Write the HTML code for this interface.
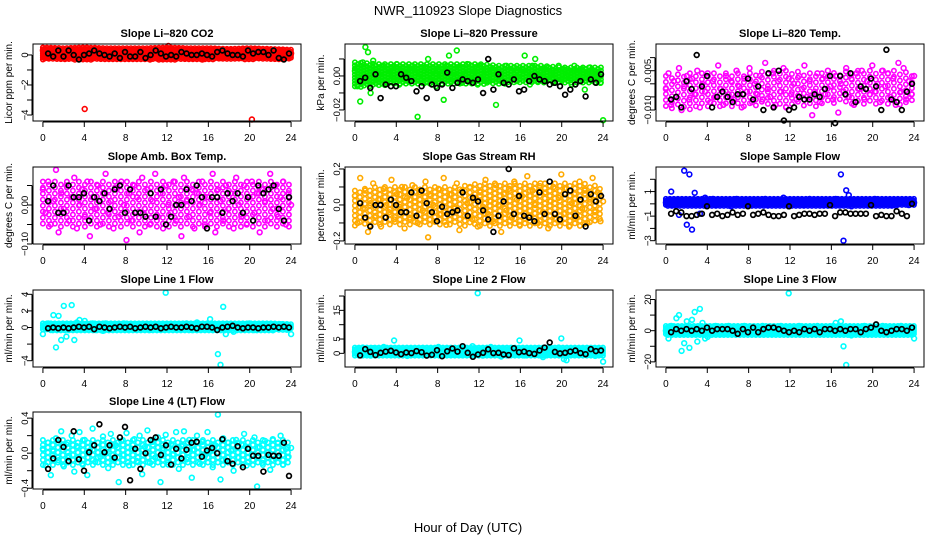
<!DOCTYPE html>
<html><head><meta charset="utf-8"><style>
html,body{margin:0;padding:0;background:#fff;}
svg{display:block;font-family:"Liberation Sans",Arial,sans-serif;}
</style></head><body>
<svg id="fig" width="936" height="540" viewBox="0 0 936 540">
<rect width="936" height="540" fill="#fff"/>
<text x="468" y="15" text-anchor="middle" font-size="13">NWR_110923  Slope Diagnostics</text>
<text x="468" y="532" text-anchor="middle" font-size="13">Hour of Day (UTC)</text>
</svg>
<script>
const xTicks=[0,4,8,12,16,20,24];
const bandHours=[0,2,4,6,8,10,12,14,16,18,20,22,24];
const co2Lo=[-0.3,-0.3,-0.35,-0.3,-0.3,-0.3,-0.35,-0.3,-0.3,-0.3,-0.3,-0.3,-0.3];
const co2Hi=[0.5,0.45,0.5,0.45,0.45,0.45,0.5,0.45,0.45,0.4,0.45,0.4,0.35];
const presLo=[-0.007,-0.006,-0.005,-0.005,-0.005,-0.005,-0.005,-0.005,-0.004,-0.004,-0.004,-0.004,-0.004];
const presHi=[0.008,0.007,0.007,0.007,0.007,0.007,0.007,0.006,0.006,0.006,0.005,0.005,0.005];
const tempLo=[-0.010,-0.010,-0.009,-0.009,-0.009,-0.009,-0.009,-0.009,-0.008,-0.008,-0.008,-0.008,-0.008];
const tempHi=[0.003,0.004,0.004,0.004,0.004,0.005,0.005,0.004,0.004,0.005,0.005,0.005,0.004];
const ambLo=[-0.06,-0.06,-0.06,-0.06,-0.06,-0.06,-0.06,-0.06,-0.06,-0.06,-0.06,-0.06,-0.06];
const ambHi=[0.06,0.06,0.06,0.06,0.06,0.06,0.06,0.06,0.06,0.06,0.06,0.06,0.06];
const rhLo=[-0.12,-0.12,-0.12,-0.12,-0.12,-0.12,-0.12,-0.12,-0.12,-0.12,-0.12,-0.12,-0.10];
const rhHi=[0.08,0.10,0.10,0.10,0.10,0.10,0.12,0.12,0.12,0.12,0.12,0.12,0.10];
const sampLo=[-0.2,-0.2,-0.2,-0.2,-0.2,-0.2,-0.2,-0.2,-0.2,-0.2,-0.2,-0.2,-0.1];
const sampHi=[0.4,0.4,0.4,0.4,0.4,0.4,0.4,0.4,0.4,0.4,0.4,0.4,0.4];
const l1Lo=[-0.3,-0.4,-0.4,-0.4,-0.4,-0.4,-0.4,-0.4,-0.4,-0.4,-0.4,-0.4,-0.3];
const l1Hi=[0.5,0.5,0.5,0.5,0.5,0.5,0.5,0.5,0.5,0.5,0.5,0.5,0.4];
const l2Lo=[-1,-1,-1,-1,-1,-1,-1,-1,-1,-1,-1,-1,-1];
const l2Hi=[2,2,2,2,2,2,2,2,2,2,2,2,2];
const l3Lo=[-3,-3,-3,-3,-3,-3,-3,-3,-3,-3,-3,-3,-3];
const l3Hi=[3,3,3,3,3,3,3,3,3,3,3,3,3];
const l4Lo=[-0.15,-0.15,-0.15,-0.15,-0.15,-0.15,-0.15,-0.15,-0.15,-0.15,-0.15,-0.15,-0.15];
const l4Hi=[0.15,0.15,0.15,0.15,0.15,0.15,0.15,0.15,0.15,0.15,0.15,0.15,0.15];
const co2Color=[0.3,0.1,-0.2,0.4,0.0,0.2,-0.1,0.3,0.1,-0.2,0.2,0.0,0.3,-0.1,0.1,0.2,-3.6,0.0,0.3,-0.2,0.1,0.2,-0.1,0.0,0.3,0.1,-0.2,0.2,0.0,-0.1,0.3,0.1,0.2,-0.2,0.0,0.1,0.3,-0.1,0.2,0.0,0.1,-0.3,0.2,0.1,0.0,0.3,-0.1,0.2,0.6,0.0,-0.2,0.1,0.2,0.0,-0.1,0.3,0.1,-0.2,0.2,0.0,0.1,-0.3,0.2,0.1,0.0,-0.1,0.3,0.1,-0.2,0.2,0.0,0.1,-0.1,0.2,0.3,0.0,-0.2,0.1,0.2,0.0,-4.3,0.1,0.2,-0.1,0.3,0.0,0.1,-0.2,0.2,0.1,0.0,0.3,-0.1,0.2,0.0,0.1];
const co2Black=[0.1,-0.1,0.3,-0.1,0.3,0.0,-0.3,0.0,0.1,0.3,0.1,0.0,-0.1,0.1,-0.2,0.2,-0.1,-0.1,0.2,-0.2,0.0,0.3,0.1,-0.1,0.0,-0.1,0.2,0.1,0.0,0.0,0.1,0.0,-0.1,0.2,0.3,0.1,0.0,0.0,-0.1,0.3,0.1,0.2,0.2,0.0,0.3,-0.2,-0.3,0.1];
const presColor=[0.003,-0.006,-0.015,0.008,0.017,0.014,-0.010,0.009,0.004,-0.003,0.002,0.006,-0.004,0.001,0.005,-0.002,0.007,-0.005,0.003,0.000,0.004,-0.003,0.006,0.002,-0.024,0.001,-0.004,0.005,0.010,-0.002,0.003,-0.006,0.004,0.001,-0.014,0.006,0.012,-0.003,0.002,0.015,0.005,-0.004,0.001,0.007,-0.002,0.004,0.003,-0.005,0.006,0.000,0.003,-0.003,0.005,0.002,-0.017,0.004,0.001,-0.004,0.006,-0.002,0.003,0.005,-0.003,0.001,0.004,0.012,0.002,-0.005,0.006,0.010,-0.003,0.002,0.004,-0.002,0.005,0.001,-0.004,0.003,0.006,-0.002,0.004,0.000,0.003,-0.005,0.006,0.002,-0.003,0.004,-0.008,0.001,0.005,-0.002,0.003,0.000,-0.004,-0.026];
const presBlack=[-0.003,-0.001,-0.007,0.001,-0.013,-0.005,-0.006,-0.006,0.001,-0.001,-0.003,-0.009,-0.006,-0.013,-0.005,-0.007,-0.005,0.002,-0.007,-0.004,-0.002,-0.003,-0.004,-0.002,-0.010,0.010,-0.008,0.001,-0.004,-0.005,-0.002,-0.009,-0.008,-0.003,0.000,-0.002,-0.003,-0.005,-0.004,-0.006,-0.011,-0.008,-0.005,-0.003,-0.012,-0.002,-0.004,0.001];
const tempColor=[-0.002,0.004,-0.008,0.001,-0.005,0.006,-0.010,-0.001,0.003,-0.006,0.002,-0.004,0.005,-0.009,0.000,-0.003,0.004,-0.007,0.001,-0.005,0.007,-0.002,-0.008,0.003,-0.004,0.001,-0.006,0.005,-0.001,-0.009,0.002,-0.003,0.006,-0.007,0.000,-0.004,0.003,-0.006,0.008,-0.002,-0.005,0.004,-0.008,0.001,-0.003,0.006,-0.009,0.002,-0.004,0.000,-0.006,0.003,-0.002,0.007,-0.005,0.001,-0.012,-0.003,0.004,-0.007,0.002,-0.004,0.005,-0.001,-0.006,0.003,-0.011,0.000,-0.003,0.006,-0.005,0.002,-0.008,0.004,-0.002,0.005,-0.006,0.001,-0.004,0.007,-0.003,0.000,-0.007,0.005,-0.001,0.004,-0.005,0.002,-0.008,0.008,-0.003,0.006,-0.006,0.001,-0.004,0.003];
const tempBlack=[-0.006,-0.005,-0.009,0.001,-0.002,0.011,-0.001,0.003,-0.009,-0.005,-0.003,-0.005,-0.007,-0.004,-0.004,0.002,-0.006,-0.001,-0.010,0.004,-0.009,0.005,-0.014,-0.010,-0.009,-0.005,-0.006,-0.006,-0.004,-0.005,-0.002,0.003,-0.015,0.003,-0.004,0.004,-0.007,-0.001,-0.002,0.002,-0.001,-0.010,0.013,-0.006,-0.007,-0.010,-0.003,0.000];
const ambColor=[0.04,-0.02,0.06,-0.05,0.01,0.09,-0.07,0.03,-0.01,0.05,-0.04,0.02,0.07,-0.06,0.00,0.04,-0.03,0.06,-0.08,0.02,-0.01,0.05,-0.05,0.03,0.08,-0.02,0.01,-0.06,0.04,-0.03,0.06,0.00,-0.09,0.03,-0.04,0.05,0.02,-0.07,0.07,-0.01,0.04,-0.05,0.01,0.08,-0.03,0.03,-0.06,0.05,0.00,-0.02,0.06,-0.04,0.02,-0.08,0.07,0.01,-0.03,0.04,-0.06,0.03,0.00,0.06,-0.05,0.02,-0.02,0.08,-0.07,0.04,0.01,-0.04,0.05,-0.01,0.03,-0.06,0.07,0.00,-0.03,0.05,-0.05,0.02,0.06,-0.02,0.03,-0.07,0.04,0.01,-0.04,0.08,-0.01,0.05,-0.03,0.02,0.06,-0.05,0.03,0.00];
const ambBlack=[0.01,0.05,-0.02,-0.02,0.05,0.02,0.02,0.03,-0.04,0.02,0.01,0.03,-0.01,0.04,0.05,-0.02,0.04,-0.02,-0.02,-0.03,0.03,-0.03,0.04,-0.05,-0.03,0.00,0.00,0.04,0.01,0.05,0.02,-0.06,0.02,0.02,-0.02,0.03,0.01,0.03,-0.02,0.02,-0.04,0.05,0.03,0.04,0.05,-0.01,-0.04,0.02];
const rhColor=[0.05,-0.10,0.15,-0.02,0.08,-0.15,0.01,0.12,-0.06,0.03,-0.12,0.09,0.00,-0.04,0.14,-0.08,0.06,-0.01,0.10,-0.13,0.04,-0.07,0.11,0.02,-0.10,0.07,-0.03,0.13,-0.18,0.05,0.00,-0.09,0.09,-0.05,0.15,-0.11,0.03,0.06,-0.02,0.12,-0.14,0.08,-0.06,0.01,0.10,-0.08,0.04,-0.12,0.07,-0.01,0.14,-0.05,0.02,-0.09,0.11,0.00,-0.15,0.06,-0.03,0.09,-0.07,0.13,0.03,-0.11,0.05,-0.02,0.16,-0.06,0.08,0.00,-0.10,0.12,-0.04,0.07,-0.13,0.02,0.10,-0.08,0.04,0.17,-0.05,0.09,-0.12,0.01,0.06,-0.07,0.13,-0.02,0.08,-0.10,0.03,0.15,-0.04,0.07,-0.09,0.02];
const rhBlack=[0.01,-0.07,-0.12,0.00,0.00,-0.07,0.03,0.00,-0.04,-0.04,0.07,-0.06,0.08,0.01,-0.04,-0.09,-0.01,-0.05,-0.04,-0.03,0.07,-0.06,0.04,0.02,-0.03,-0.08,-0.15,-0.06,0.02,0.20,-0.05,0.05,-0.06,-0.07,-0.09,0.07,-0.05,0.13,-0.05,-0.08,0.06,0.08,-0.06,0.03,-0.12,0.06,0.02,0.05];
const sampColor=[0.1,0.2,1.0,-0.1,0.3,-0.9,0.2,2.7,-1.7,2.4,-2.1,0.9,0.1,-0.8,0.3,0.5,0.0,0.2,0.4,-0.1,0.3,0.1,0.2,0.0,0.3,-0.2,0.1,0.4,0.2,0.0,0.3,0.1,-0.1,0.2,0.3,0.0,0.1,0.2,0.4,-0.1,0.2,0.1,0.3,0.0,0.2,0.5,0.1,-0.2,0.3,0.1,0.2,0.0,0.3,-0.1,0.2,0.4,0.1,0.0,0.3,0.2,-0.1,0.1,0.2,0.3,0.0,0.4,0.1,2.4,-3.0,1.1,0.7,-0.2,0.2,0.1,0.3,0.0,0.2,0.1,-0.1,0.3,0.4,0.2,0.0,0.1,0.3,0.2,-0.1,0.1,0.3,0.0,0.2,0.1,0.3,-0.1,0.2,0.1];
const sampBlack=[-0.8,-0.6,-0.7,-1.0,-1.0,-0.9,-0.8,-0.2,-0.9,-0.8,-1.0,-0.9,-0.7,-0.9,-0.8,-0.2,-0.9,-0.8,-0.7,-0.9,-1.0,-1.0,-0.9,-0.2,-1.0,-0.9,-0.8,-0.8,-0.9,-0.8,-0.8,-0.1,-1.0,-0.7,-0.7,-0.8,-0.8,-0.8,-0.8,-0.1,-1.0,-0.9,-1.0,-1.0,-0.6,-0.8,-1.0,0.0];
const l1Color=[-0.8,0.2,0.5,-0.3,1.5,-2.4,1.4,-1.5,2.6,-1.1,0.4,2.7,-1.5,0.6,0.9,-0.2,0.8,0.3,0.0,0.5,-0.3,0.4,0.2,-0.4,0.5,0.1,-0.2,0.3,0.4,-0.1,0.2,0.5,0.0,-0.3,0.3,0.1,0.4,-0.2,0.2,0.3,0.0,-0.3,0.4,0.2,0.1,-0.2,0.3,4.2,0.2,-0.1,0.3,0.4,0.0,-0.2,0.2,0.5,0.1,-0.3,0.3,0.6,-0.1,0.2,0.0,0.4,1.0,-0.3,0.3,-3.2,-4.5,2.5,-0.8,0.2,0.4,-0.5,0.1,0.3,0.2,-0.2,0.4,0.5,0.0,-0.3,0.2,0.3,-0.1,0.4,0.1,0.2,-0.2,0.3,0.0,0.4,0.1,-0.2,0.3,-0.8];
const l1Black=[-0.1,0.0,-0.1,0.0,-0.1,0.0,0.1,0.0,0.1,-0.2,0.1,0.0,-0.1,0.0,0.1,0.0,0.1,-0.1,0.0,0.1,0.0,0.1,-0.1,0.0,0.1,0.0,0.0,0.1,0.0,-0.1,0.1,0.1,0.0,-0.3,0.0,0.1,0.2,0.0,-0.1,0.0,0.0,-0.1,0.0,0.0,0.1,0.0,0.1,0.0];
const l2Color=[0.5,1.5,-0.5,2.0,0.0,1.2,-0.8,1.8,0.3,-0.4,1.0,2.2,0.1,1.5,-0.6,4.5,0.8,-0.2,1.4,0.3,-0.9,1.7,0.5,-0.3,1.1,0.0,1.9,-0.5,0.7,1.3,-0.1,0.9,2.2,-0.7,0.4,1.6,0.2,-0.4,1.2,0.6,1.8,-0.6,0.3,1.0,-0.2,2.5,1.4,21.0,0.5,-0.8,1.6,0.2,2.2,-0.3,1.1,0.6,-1.1,1.5,0.0,0.8,1.9,-0.5,0.4,4.5,1.2,-0.7,0.9,1.5,0.1,-0.4,1.8,0.6,-1.3,1.0,0.3,1.6,-0.2,0.8,2.0,5.2,-2.0,-2.4,1.3,0.5,-0.6,1.1,0.2,1.7,-0.3,0.8,1.4,0.0,-0.9,1.2,0.4,-2.9];
const l2Black=[-0.7,1.5,0.5,-0.6,0.2,0.6,0.9,0.3,-0.3,0.3,0.1,0.8,0.4,-0.8,-0.5,1.1,-1.0,0.7,1.7,0.6,2.5,0.2,-1.2,-0.4,0.2,1.4,0.1,0.2,-0.4,-0.6,1.8,0.4,0.6,0.1,-0.2,1.0,2.0,3.8,0.5,0.0,0.2,0.6,1.0,0.1,-0.3,1.5,0.8,1.0];
const l3Color=[0,-5,3,2,8,10,-13,-8,6,-11,7,12,-7,14,5,-5,-4,2,-1,3,1,-2,2,0,3,-1,1,2,-2,0,3,1,-1,2,0,-2,1,3,-1,0,2,-2,1,0,3,-1,2,24,1,-2,0,3,1,-1,2,0,-2,1,3,-1,2,0,1,-2,3,5,-1,6,-10,-22,2,-3,1,0,2,-1,3,1,-2,0,2,1,-1,3,0,-2,1,2,0,-1,3,1,0,2,-1,-5];
const l3Black=[-1,1,0,1,0,1,0,2,0,1,1,1,0,-2,1,-1,2,-1,1,2,2,1,0,-1,0,-1,1,0,1,-1,1,1,0,1,0,1,1,-1,1,2,4,0,-1,0,1,1,0,2];
const l4Color=[0.05,-0.14,0.12,-0.25,0.02,0.17,-0.08,0.25,-0.15,0.10,-0.03,0.20,-0.21,0.08,0.24,-0.12,0.15,-0.25,0.03,0.28,-0.10,0.12,-0.04,0.19,0.01,-0.17,0.22,-0.06,0.09,-0.33,0.14,-0.02,0.23,-0.14,0.05,0.16,-0.09,0.20,-0.24,0.07,0.26,-0.11,0.13,-0.05,0.18,-0.33,0.06,0.21,-0.13,0.10,-0.01,0.24,-0.18,0.08,0.25,-0.07,0.15,-0.28,0.04,0.20,-0.12,0.13,-0.03,0.24,0.02,-0.16,0.09,0.44,-0.30,0.17,-0.08,0.12,0.03,-0.20,0.15,-0.05,0.10,0.22,-0.14,0.06,-0.02,0.18,-0.38,0.07,-0.11,0.14,0.01,-0.19,0.16,-0.06,0.11,0.20,-0.13,0.05,-0.04,0.06];
const l4Black=[-0.18,-0.06,0.15,0.07,-0.09,0.25,-0.07,-0.20,0.01,0.09,0.33,0.01,0.09,-0.05,0.18,0.30,-0.31,0.05,-0.18,0.00,0.15,0.18,-0.02,0.09,-0.13,0.05,-0.06,0.04,0.12,0.13,-0.04,0.03,0.06,0.00,0.16,-0.09,-0.12,0.08,-0.16,0.05,-0.03,-0.03,-0.21,-0.02,-0.03,-0.03,0.12,-0.26];

const NS='http://www.w3.org/2000/svg';
const svg=document.getElementById('fig');
function mk(tag,attrs,parent){const e=document.createElementNS(NS,tag);for(const k in attrs)e.setAttribute(k,attrs[k]);(parent||svg).appendChild(e);return e;}
const colL=[33,345,656], rowT=[44,167,290,412], W=268, H=77;
const panels=[
 {name:'co2',title:'Slope Li\u2013820 CO2',ylab:'Licor ppm per min.',col:0,row:0,ymin:-4.4,ymax:0.73,ticks:[0,-1,-2,-3,-4],labels:{'0':'0','-2':'\u22122','-4':'\u22124'},color:'#ff0000',c:co2Color,b:co2Black,lo:co2Lo,hi:co2Hi,dx:2,dy:2},
 {name:'pressure',title:'Slope Li\u2013820 Pressure',ylab:'kPa per min.',col:1,row:0,ymin:-0.0265,ymax:0.0188,ticks:[0.01,0,-0.01,-0.02],labels:{'0':'0.00','-0.02':'\u22120.02'},color:'#00ee00',c:presColor,b:presBlack,lo:presLo,hi:presHi,dx:3,dy:3},
 {name:'temp',title:'Slope Li\u2013820 Temp.',ylab:'degrees C per min.',col:2,row:0,ymin:-0.0142,ymax:0.0152,ticks:[0.01,0.005,0,-0.005,-0.01],labels:{'0.005':'0.005','-0.01':'\u22120.010'},color:'#ff00ff',c:tempColor,b:tempBlack,lo:tempLo,hi:tempHi,dx:6,dy:6},
 {name:'amb-box-temp',title:'Slope Amb. Box Temp.',ylab:'degrees C per min.',col:0,row:1,ymin:-0.1,ymax:0.0974,ticks:[0.05,0,-0.05,-0.1],labels:{'0':'0.00','-0.1':'\u22120.10'},color:'#ff00ff',c:ambColor,b:ambBlack,lo:ambLo,hi:ambHi,dx:6,dy:6},
 {name:'gas-rh',title:'Slope Gas Stream RH',ylab:'percent per min.',col:1,row:1,ymin:-0.217,ymax:0.211,ticks:[0.2,0.1,0,-0.1,-0.2],labels:{'0.2':'0.2','0':'0.0','-0.2':'\u22120.2'},color:'#ffaa00',c:rhColor,b:rhBlack,lo:rhLo,hi:rhHi,dx:5,dy:5},
 {name:'sample-flow',title:'Slope Sample Flow',ylab:'ml/min per min.',col:2,row:1,ymin:-3.27,ymax:3.0,ticks:[2,1,0,-1,-2,-3],labels:{'1':'1','-1':'\u22121','-3':'\u22123'},color:'#0000ff',c:sampColor,b:sampBlack,lo:sampLo,hi:sampHi,dx:2,dy:2},
 {name:'line1-flow',title:'Slope Line 1 Flow',ylab:'ml/min per min.',col:0,row:2,ymin:-4.76,ymax:4.52,ticks:[4,2,0,-2,-4],labels:{'4':'4','2':'2','0':'0','-4':'\u22124'},color:'#00ffff',c:l1Color,b:l1Black,lo:l1Lo,hi:l1Hi,dx:2,dy:2},
 {name:'line2-flow',title:'Slope Line 2 Flow',ylab:'ml/min per min.',col:1,row:2,ymin:-4.76,ymax:22.1,ticks:[20,15,10,5,0],labels:{'15':'15','5':'5','0':'0'},color:'#00ffff',c:l2Color,b:l2Black,lo:l2Lo,hi:l2Hi,dx:2,dy:2},
 {name:'line3-flow',title:'Slope Line 3 Flow',ylab:'ml/min per min.',col:2,row:2,ymin:-23.3,ymax:26.1,ticks:[20,10,0,-10,-20],labels:{'20':'20','0':'0','-20':'\u221220'},color:'#00ffff',c:l3Color,b:l3Black,lo:l3Lo,hi:l3Hi,dx:2,dy:2},
 {name:'line4-flow',title:'Slope Line 4 (LT) Flow',ylab:'ml/min per min.',col:0,row:3,ymin:-0.409,ymax:0.47,ticks:[0.4,0.2,0,-0.2,-0.4],labels:{'0.4':'0.4','0':'0.0','-0.4':'\u22120.4'},color:'#00ffff',c:l4Color,b:l4Black,lo:l4Lo,hi:l4Hi,dx:5,dy:5}
];
function interp(arr,t){t=Math.max(0,Math.min(24,t));const k=Math.min(bandHours.length-2,Math.floor(t/2));const f=(t-bandHours[k])/(bandHours[k+1]-bandHours[k]);return arr[k]+(arr[k+1]-arr[k])*f;}
panels.forEach(p=>{
 const L=colL[p.col],T=rowT[p.row];
 const g=mk('g',{});
 
 
 const xs=t=>L+(t+0.96)/25.92*W;
 const ys=v=>T+(p.ymax-v)/(p.ymax-p.ymin)*H;
 const t1=mk('text',{x:L+W/2,y:T-7,'text-anchor':'middle','font-size':11,'font-weight':'bold'},g);t1.textContent=p.title;
 
 
 const yl=mk('text',{transform:`translate(${L-21},${T+H/2}) rotate(-90)`,'text-anchor':'middle','font-size':10},g);yl.textContent=p.ylab;
 
 
 const cg=mk('g',{fill:'none',stroke:p.color,'stroke-width':1.6},g);
 
 
 let col=0;
 for(let x=xs(0);x<=xs(24);x+=p.dx){
  const t=(x-L)/W*25.92-0.96;
  const y0=ys(interp(p.hi,t)), y1=ys(interp(p.lo,t));
  const off=(col%2)*p.dy/2; col++;
  for(let y=y0+off;y<=y1;y+=p.dy){
   const c=mk('circle',{cx:x.toFixed(1),cy:y.toFixed(1),r:2.2},cg);
   
   
  }
 }
 p.c.forEach((v,i)=>{const t=i*24/(p.c.length-1);const c=mk('circle',{cx:xs(t).toFixed(1),cy:ys(v).toFixed(1),r:2.4},cg);
  
  });
 const bg=mk('g',{fill:'none',stroke:'#000','stroke-width':1.7},g);
 
 
 p.b.forEach((v,i)=>{const t=0.5+i*23.3/(p.b.length-1);const c=mk('circle',{cx:xs(t).toFixed(1),cy:ys(v).toFixed(1),r:2.4},bg);
  
  });
 const box=mk('rect',{x:L,y:T,width:W,height:H,fill:'none',stroke:'#000','stroke-width':1},g);
 
 
 const xa=mk('g',{},g);
 
 
 mk('line',{x1:xs(0),x2:xs(24),y1:T+H+1,y2:T+H+1,stroke:'#000'},xa);
 xTicks.forEach(t=>{mk('line',{x1:xs(t),x2:xs(t),y1:T+H+1,y2:T+H+6,stroke:'#000'},xa);
  const tx=mk('text',{x:xs(t),y:T+H+20,'text-anchor':'middle','font-size':10},xa);tx.textContent=String(t);
  
  });
 const ya=mk('g',{},g);
 
 
 mk('line',{x1:L-1,x2:L-1,y1:ys(p.ticks[0]),y2:ys(p.ticks[p.ticks.length-1]),stroke:'#000'},ya);
 p.ticks.forEach(v=>{const y=ys(v);mk('line',{x1:L-6,x2:L-1,y1:y,y2:y,stroke:'#000'},ya);
  const lab=p.labels[String(v)];
  if(lab){const tx=mk('text',{transform:`translate(${L-5},${y}) rotate(-90)`,'text-anchor':'middle','font-size':9.5},ya);tx.textContent=lab;
   
   }});
});
</script>
</body></html>
